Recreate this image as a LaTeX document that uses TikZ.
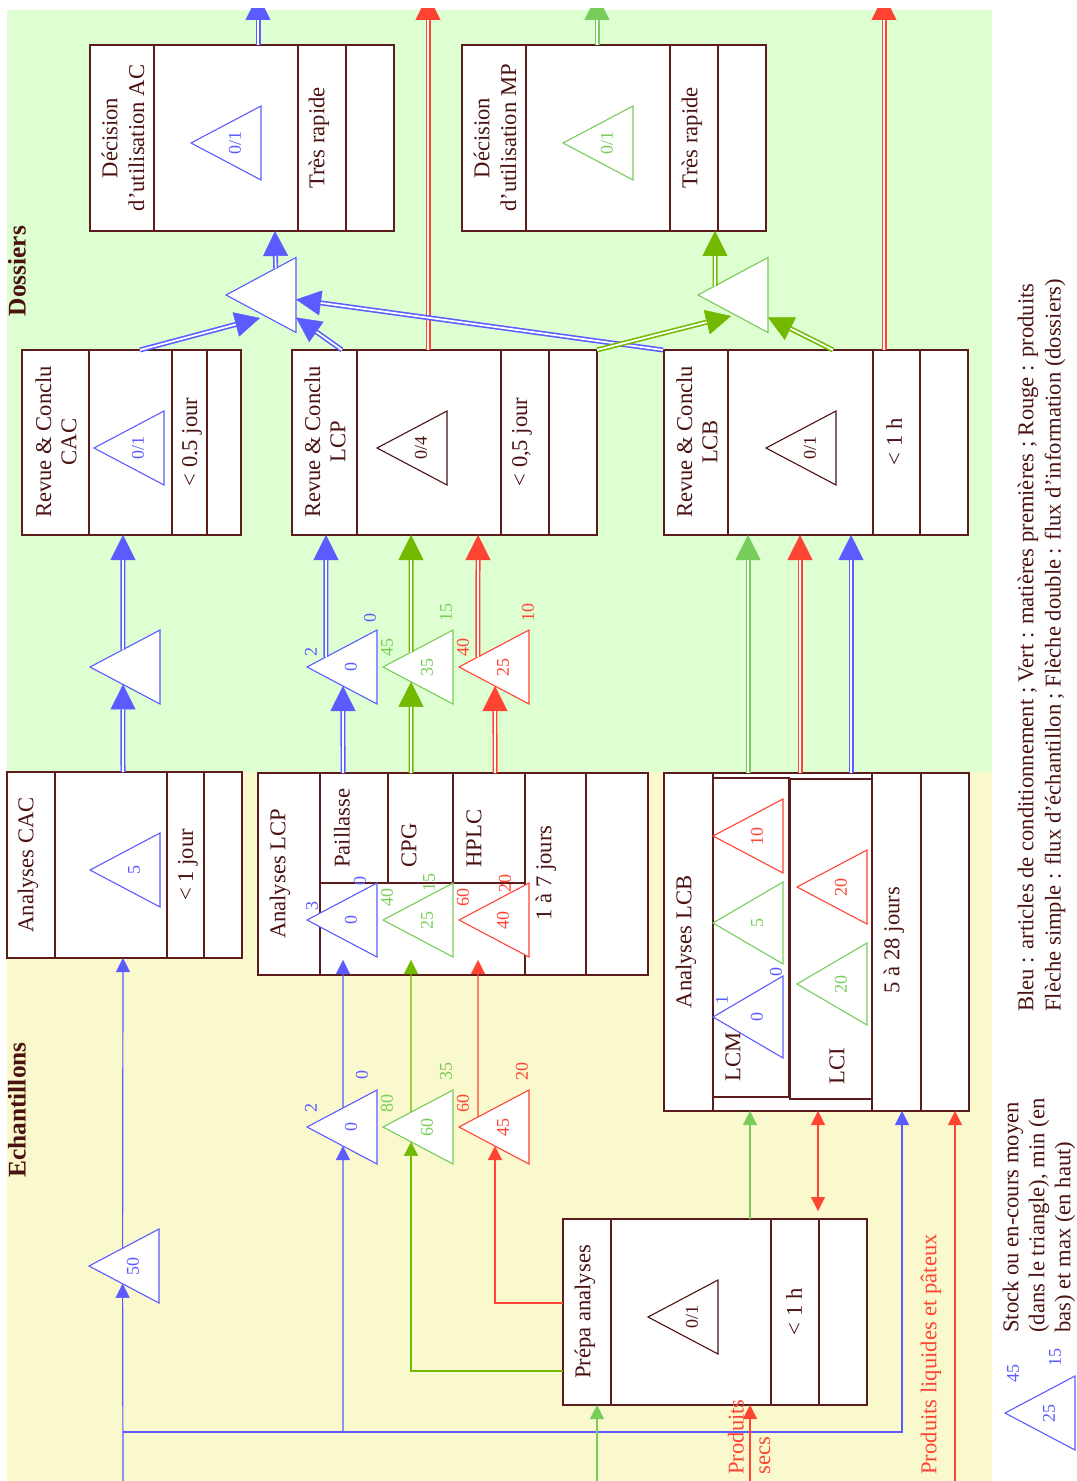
\documentclass[tikz,border=0pt]{standalone}
\usepackage{fontspec}
\setmainfont{Liberation Serif}
\usetikzlibrary{arrows.meta,calc,fit}
\definecolor{cblue}{RGB}{90,92,255}
\definecolor{cgl}{RGB}{120,205,90}
\definecolor{cgd}{RGB}{115,185,0}
\definecolor{cred}{RGB}{255,68,52}
\definecolor{cbrd}{RGB}{92,28,28}
\definecolor{ctxt}{RGB}{75,18,18}
\definecolor{cgbg}{RGB}{222,255,210}
\definecolor{cybg}{RGB}{250,248,205}
\tikzset{
  boxst/.style={draw=cbrd, line width=0.75pt, fill=white, inner sep=0pt, outer sep=0pt},
  divl/.style={draw=cbrd, line width=0.75pt},
  lbl/.style={text=ctxt, rotate=90, inner sep=0pt, font=\fontsize{11.3}{13}\selectfont},
  sect/.style={text=ctxt, rotate=90, inner sep=0pt, font=\fontsize{12.7}{14}\selectfont\bfseries},
  num/.style={text=#1, rotate=90, inner sep=0pt, font=\fontsize{9}{10}\selectfont},
  tri/.style={draw=#1, line width=0.55pt, fill=white, line join=miter},
  dbl/.style={draw=#1, line width=2.5pt, -{Triangle[width=12.5pt,length=12.5pt,line width=0.2pt]},
    postaction={draw=white, line width=0.9pt, -, shorten >=12.5pt}},
  sgl/.style={draw=#1, line width=0.6pt, -{Triangle[width=7pt,length=7pt,line width=0.2pt]}},
  bothsgl/.style={draw=#1, line width=0.6pt, {Triangle[width=7pt,length=7pt,line width=0.2pt]}-{Triangle[width=7pt,length=7pt,line width=0.2pt]}},
}
\newcommand{\mkbox}[5]{\node[boxst, fit={(#2,#3) (#4,#5)}] (#1) {};}
\newcommand{\vdiv}[3]{\draw[divl] (#1,#2) -- (#1,#3);}
\newcommand{\stock}[6][37]{%
  \coordinate (#2-a) at (#3,#4);
  \coordinate (#2-t) at ({#3+70},{#4-#1});
  \coordinate (#2-b) at ({#3+70},{#4+#1});
  \draw[tri=#5] (#2-a) -- (#2-t) -- (#2-b) -- cycle;
  \node[num=#5] (#2) at ({#3+44},#4) {#6};
}
\begin{document}
\begin{tikzpicture}[x=0.5pt,y=-0.5pt]
\useasboundingbox (0,0) rectangle (1076,1481);
\fill[white] (0,0) rectangle (1076,1481);
\fill[cgbg] (7,10) rectangle (992,772);
\fill[cybg] (7,772) rectangle (992,1481);

% ---------- boxes ----------
\mkbox{dAC}{90}{45}{394}{231}
\vdiv{154}{45}{231}\vdiv{298}{45}{231}\vdiv{346}{45}{231}
\mkbox{dMP}{462}{45}{766}{231}
\vdiv{526}{45}{231}\vdiv{670}{45}{231}\vdiv{718}{45}{231}
\mkbox{rCAC}{22}{350}{241}{535}
\vdiv{89}{350}{535}\vdiv{172}{350}{535}\vdiv{207}{350}{535}
\mkbox{rLCP}{292}{350}{597}{535}
\vdiv{357}{350}{535}\vdiv{501}{350}{535}\vdiv{549}{350}{535}
\mkbox{rLCB}{664}{350}{968}{535}
\vdiv{728}{350}{535}\vdiv{873}{350}{535}\vdiv{920}{350}{535}
\mkbox{aCAC}{7}{772}{242}{958}
\vdiv{55}{772}{958}\vdiv{167}{772}{958}\vdiv{204}{772}{958}
\mkbox{aLCP}{258}{773}{648}{975}
\vdiv{320}{773}{975}\vdiv{525}{773}{975}\vdiv{586}{773}{975}
\draw[divl] (320,883) -- (525,883);
\vdiv{388}{773}{883}\vdiv{453}{773}{883}
\mkbox{aLCB}{664}{773}{969}{1111}
\vdiv{713}{773}{1111}\vdiv{872}{773}{1111}\vdiv{921}{773}{1111}
\draw[divl] (713,778) rectangle (789,1097);
\draw[divl] (790,779) rectangle (872,1099);
\mkbox{prepa}{563}{1219}{867}{1405}
\vdiv{611}{1219}{1405}\vdiv{771}{1219}{1405}\vdiv{819}{1219}{1405}

% ---------- stock triangles ----------
\stock{sdAC}{191}{143}{cblue}{0/1}
\stock{sdMP}{563}{143}{cgl}{0/1}
\stock[37.5]{mAC}{226}{295}{cblue}{}
\stock[37.5]{mMP}{698}{295}{cgl}{}
\stock{srCAC}{94}{448}{cblue}{0/1}
\stock{srLCP}{377}{448}{ctxt}{0/4}
\stock{srLCB}{766}{448}{ctxt}{0/1}
\stock{uC}{90}{667}{cblue}{}
\stock{uB}{307}{667}{cblue}{0}
\stock{uG}{383}{667}{cgl}{35}
\stock{uR}{459}{667}{cred}{25}
\stock{saCAC}{90}{870}{cblue}{5}
\stock{aB}{307}{920}{cblue}{0}
\stock{aG}{383}{920}{cgl}{25}
\stock{aR}{459}{920}{cred}{40}
\stock{lmR}{713}{836}{cred}{10}
\stock[41]{lmG}{713}{923}{cgl}{5}
\stock[41]{lmB}{713}{1017}{cblue}{0}
\stock{liR}{797}{887}{cred}{20}
\stock[41]{liG}{797}{984}{cgl}{20}
\stock{eC}{89}{1266}{cblue}{50}
\stock{eB}{307}{1127}{cblue}{0}
\stock{eG}{383}{1127}{cgl}{60}
\stock{eR}{459}{1127}{cred}{45}
\stock{sPr}{648}{1317}{ctxt}{0/1}
\stock{lg}{1005}{1413}{cblue}{25}

% min / max labels
\node[num=cblue] (uBx) at (311,652) {2};
\node[num=cblue] (uBn) at (370,618) {0};
\node[num=cgl] (uGx) at (387,647) {45};
\node[num=cgl] (uGn) at (446,612) {15};
\node[num=cred] (uRx) at (463,647) {40};
\node[num=cred] (uRn) at (528,612) {10};
\node[num=cblue] (aBx) at (312,906) {3};
\node[num=cblue] (aBn) at (360,881) {0};
\node[num=cgl] (aGx) at (387,897) {40};
\node[num=cgl] (aGn) at (429,882) {15};
\node[num=cred] (aRx) at (463,897) {60};
\node[num=cred] (aRn) at (505,883) {20};
\node[num=cblue] (lmBx) at (722,1000) {1};
\node[num=cblue] (lmBn) at (776,972) {0};
\node[num=cblue] (eBx) at (311,1108) {2};
\node[num=cblue] (eBn) at (362,1075) {0};
\node[num=cgl] (eGx) at (387,1103) {80};
\node[num=cgl] (eGn) at (446,1071) {35};
\node[num=cred] (eRx) at (463,1103) {60};
\node[num=cred] (eRn) at (522,1071) {20};
\node[num=cblue] (lgx) at (1013,1373) {45};
\node[num=cblue] (lgn) at (1055,1357) {15};

% ---------- texts ----------
\node[sect] (lDos) at (17,271) {Dossiers};
\node[sect] (lEch) at (17,1110) {Echantillons};
\node[lbl, align=center, font=\fontsize{11.3}{13.3}\selectfont] (tdAC) at (123,138) {Décision\\d’utilisation AC};
\node[lbl] (vdAC) at (319,138) {Très rapide};
\node[lbl, align=center, font=\fontsize{11.3}{13.3}\selectfont] (tdMP) at (495,138) {Décision\\d’utilisation MP};
\node[lbl] (vdMP) at (692,138) {Très rapide};
\node[lbl, align=center, font=\fontsize{11.3}{12.6}\selectfont] (trCAC) at (56,442) {Revue \& Conclu\\CAC};
\node[lbl] (vrCAC) at (192,442) {< 0.5 jour};
\node[lbl, align=center, font=\fontsize{11.3}{12.6}\selectfont] (trLCP) at (325,442) {Revue \& Conclu\\LCP};
\node[lbl] (vrLCP) at (522,442) {< 0,5 jour};
\node[lbl, align=center, font=\fontsize{11.3}{12.6}\selectfont] (trLCB) at (697,442) {Revue \& Conclu\\LCB};
\node[lbl] (vrLCB) at (894,442) {< 1 h};
\node[lbl] (taCAC) at (28,865) {Analyses CAC};
\node[lbl] (vaCAC) at (188,865) {< 1 jour};
\node[lbl] (taLCP) at (280,874) {Analyses LCP};
\node[lbl, anchor=west] (tPai) at (342,868) {Paillasse};
\node[lbl, anchor=west] (tCPG) at (409,868) {CPG};
\node[lbl, anchor=west] (tHPLC) at (474,868) {HPLC};
\node[lbl] (vaLCP) at (546,873) {1 à 7 jours};
\node[lbl] (taLCB) at (686,942) {Analyses LCB};
\node[lbl] (vaLCB) at (894,940) {5 à 28 jours};
\node[lbl, anchor=west] (tLCM) at (733,1082) {LCM};
\node[lbl, anchor=west] (tLCI) at (837,1085) {LCI};
\node[lbl] (tPr) at (585,1312) {Prépa analyses};
\node[lbl] (vPr) at (794,1312) {< 1 h};
\node[lbl, anchor=west, text=cred] (tPS1) at (736,1475) {Produits};
\node[lbl, anchor=west, text=cred] (tPS2) at (765,1475) {secs};
\node[lbl, anchor=west, text=cred] (tPL) at (931,1475) {Produits liquides et pâteux};
\node[lbl, anchor=west] (lg1) at (1013,1333) {Stock ou en-cours moyen};
\node[lbl, anchor=west] (lg2) at (1039,1333) {(dans le triangle), min (en};
\node[lbl, anchor=west] (lg3) at (1065,1333) {bas) et max (en haut)};
\node[lbl, anchor=west] (lgA) at (1028,1012) {Bleu : articles de conditionnement ; Vert : matières premières ; Rouge : produits};
\node[lbl, anchor=west] (lgB) at (1055,1012) {Flèche simple : flux d’échantillon ; Flèche double : flux d’information (dossiers)};

% ---------- double arrows (information) ----------
\begin{scope}
\clip (0,8.5) rectangle (1076,1481);
\coordinate (o1) at (258,-5);
\coordinate (o2) at (428,-5);
\coordinate (o3) at (597,-5);
\coordinate (o4) at (884,-5);
\draw[dbl=cblue] (258,0 |- dAC.north) -- (o1);
\draw[dbl=cred] (428,0 |- rLCP.north) -- (o2);
\draw[dbl=cgl] (597,0 |- dMP.north) -- (o3);
\draw[dbl=cred] (884,0 |- rLCB.north) -- (o4);
\end{scope}
\draw[dbl=cblue] ($(mAC-a)!0.71!(mAC-t)$) -- (275,0 |- dAC.south);
\draw[dbl=cgd] ($(mMP-a)!0.243!(mMP-t)$) -- (715,0 |- dMP.south);
\coordinate (mACin) at (260,318);
\coordinate (mMPin) at (731,316);
\draw[dbl=cblue] (140,0 |- rCAC.north) -- (mACin);
\draw[dbl=cblue] (342,0 |- rLCP.north) -- ($(mAC-t)!0.8!(mAC-b)$);
\draw[dbl=cblue] (663,0 |- rLCB.north) -- ($(mAC-t)!0.56!(mAC-b)$);
\draw[dbl=cgd] (rLCP.north east) -- (mMPin);
\draw[dbl=cgd] (833,0 |- rLCB.north) -- ($(mMP-t)!0.8!(mMP-b)$);
% CAC column
\draw[dbl=cblue] (123,0 |- aCAC.north) -- ($(uC-a)!0.471!(uC-b)$);
\draw[dbl=cblue] ($(uC-a)!0.471!(uC-t)$) -- (123,0 |- rCAC.south);
% LCP column
\draw[dbl=cblue] (343,0 |- aLCP.north) -- ($(uB-a)!0.514!(uB-b)$);
\draw[dbl=cblue] ($(uB-a)!0.271!(uB-t)$) -- (326,0 |- rLCP.south);
\draw[dbl=cgd] (411,0 |- aLCP.north) -- ($(uG-a)!0.4!(uG-b)$);
\draw[dbl=cgd] ($(uG-a)!0.4!(uG-t)$) -- (411,0 |- rLCP.south);
\draw[dbl=cred] (495,0 |- aLCP.north) -- ($(uR-a)!0.514!(uR-b)$);
\draw[dbl=cred] ($(uR-a)!0.271!(uR-t)$) -- (478,0 |- rLCP.south);
% LCB column
\draw[dbl=cgl] (748,0 |- aLCB.north) -- (748,0 |- rLCB.south);
\draw[dbl=cred] (800,0 |- aLCB.north) -- (800,0 |- rLCB.south);
\draw[dbl=cblue] (851,0 |- aLCB.north) -- (851,0 |- rLCB.south);

% ---------- single arrows (samples) ----------
\coordinate (inB) at (123,1481);
\coordinate (jB1) at (123,1432);
\coordinate (jB2) at (343,1432);
\coordinate (inG) at (597,1481);
\coordinate (inRs) at (750,1481);
\coordinate (inRl) at (955,1481);
\coordinate (lcpB) at (343,960);
\coordinate (lcpG) at (411,960);
\coordinate (lcpR) at (478,960);
\coordinate (prTop) at (818,1211);
\draw[sgl=cblue] (inB) -- ($(eC-a)!0.48!(eC-b)$);
\draw[sgl=cblue] ($(eC-a)!0.48!(eC-t)$) -- (123,0 |- aCAC.south);
\draw[sgl=cblue] (jB1) -| (902,0 |- aLCB.south);
\draw[sgl=cblue] (jB2) -- ($(eB-a)!0.514!(eB-b)$);
\draw[sgl=cblue] ($(eB-a)!0.514!(eB-t)$) -- (lcpB);
\draw[sgl=cgl] (inG) -- (597,0 |- prepa.south);
\draw[sgl=cgd] (prepa.west |- 0,1371) -| ($(eG-a)!0.4!(eG-b)$);
\draw[sgl=cgd] ($(eG-a)!0.4!(eG-t)$) -- (lcpG);
\draw[sgl=cgl] (750,0 |- prepa.north) -- (750,0 |- aLCB.south);
\draw[sgl=cred] (prepa.west |- 0,1303) -| ($(eR-a)!0.514!(eR-b)$);
\draw[sgl=cred] ($(eR-a)!0.271!(eR-t)$) -- (lcpR);
\draw[bothsgl=cred] (818,0 |- aLCB.south) -- (prTop);
\draw[sgl=cred] (inRs) -- (750,0 |- prepa.south);
\draw[sgl=cred] (inRl) -- (955,0 |- aLCB.south);
\end{tikzpicture}
\end{document}
